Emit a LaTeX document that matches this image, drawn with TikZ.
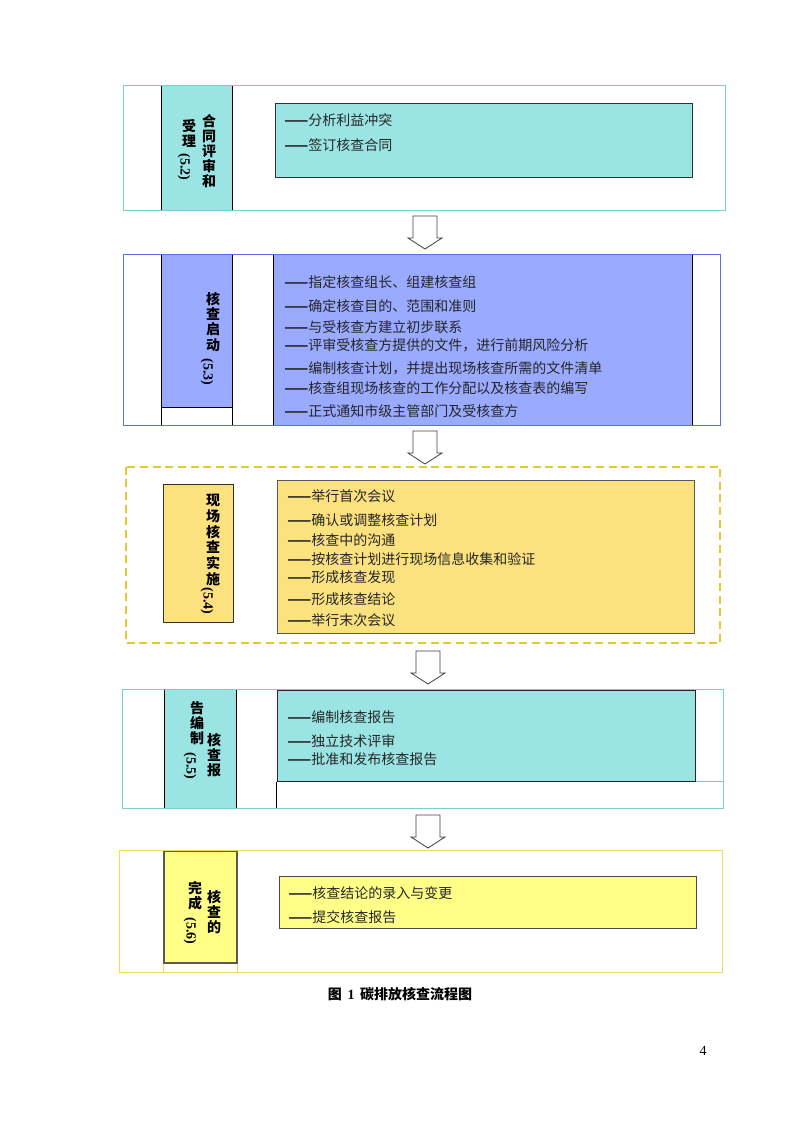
\documentclass[tikz,border=0pt]{standalone}
\usepackage{fontspec}
\setmainfont{Liberation Serif}
\newfontfamily\cjk{Noto Sans CJK SC}
\usepackage{tikz}
\usetikzlibrary{fit}
\definecolor{stageteal}{RGB}{154,228,228}
\definecolor{tealline}{RGB}{120,208,208}
\definecolor{stageblue}{RGB}{153,170,255}
\definecolor{blueline}{RGB}{85,115,225}
\definecolor{stagegold}{RGB}{252,225,127}
\definecolor{goldline}{RGB}{228,200,50}
\definecolor{stagelemon}{RGB}{255,255,136}
\definecolor{lemonline}{RGB}{248,215,95}

\begin{document}
\begin{tikzpicture}[x=0.75pt, y=-0.75pt,
    every node/.style={inner sep=0pt},
    rule/.style={draw=black, line width=0.75pt},
    item/.style={anchor=west, text=black!85, font=\cjk\fontsize{10.5}{12}\selectfont},
    vtitle/.style={align=center, font=\cjk\bfseries\fontsize{10.5}{11.3}\selectfont},
    stageno/.style={rotate=-90, font=\bfseries\fontsize{10.5}{12}\selectfont},
    hollow/.style={draw=black!75, fill=white, line width=0.6pt}
]
\fill[white] (0,0) rectangle (793,1122);
\useasboundingbox (0,0) rectangle (793,1122);

% 5.2
\node[fit={(124,86) (725,210)}] (s1) {};
\node[fill=stageteal, fit={(162,86) (232,210)}] (s1col) {};
\draw[rule] (s1col.north west) -- (s1col.south west) (s1col.north east) -- (s1col.south east);
\node[fill=stageteal, draw=black!80, line width=0.75pt, fit={(275,103) (692,177)}] (s1box) {};
\node[item] (s1i1) at (284,120) {{\bfseries ——}分析利益冲突};
\node[item] (s1i2) at (284,145) {{\bfseries ——}签订核查合同};
\draw[tealline, line width=0.9pt] (s1.north west) rectangle (s1.south east);
\node[vtitle] (s1t) at (209,151) {合\\同\\评\\审\\和};
\node[vtitle] (s1u) at (189,133) {受\\理};
\node[stageno] (s1n) at (184,167) {(5.2)};

% 5.3
\node[fit={(124,255) (720,425)}] (s2) {};
\node[fill=stageblue, fit={(274,255) (692,425)}] (s2box) {};
\draw[rule] (s2box.north west) -- (s2box.south west) (s2box.north east) -- (s2box.south east);
\node[fill=stageblue, fit={(162,255) (232,407)}] (s2col) {};
\draw[rule] (s2col.north west) -- (s2col.south west |- s2.south)
    (s2col.north east) -- (s2col.south east |- s2.south)
    (s2col.south west) -- (s2col.south east);
\foreach \ty/\txt [count=\k] in {282/指定核查组长、组建核查组, 306/确定核查目的、范围和准则,
    327/与受核查方建立初步联系, 345/{评审受核查方提供的文件，进行前期风险分析},
    368/{编制核查计划，并提出现场核查所需的文件清单}, 388/核查组现场核查的工作分配以及核查表的编写,
    411/正式通知市级主管部门及受核查方}
  \node[item] (s2i\k) at (284,\ty) {{\bfseries ——}\txt};
\draw[blueline, line width=0.9pt] (s2.north west) rectangle (s2.south east);
\node[vtitle] (s2t) at (213,322) {核\\查\\启\\动};
\node[stageno] (s2n) at (207,372) {(5.3)};

% 5.4
\node[fit={(126,467) (720,643)}] (s3) {};
\node[fill=stagegold, draw=black!80, line width=0.75pt, fit={(163,484) (233,622)}] (s3col) {};
\node[fill=stagegold, draw=black!65, line width=0.75pt, fit={(277,480) (694,633)}] (s3box) {};
\foreach \ty/\txt [count=\k] in {496/举行首次会议, 520/确认或调整核查计划, 540/核查中的沟通,
    559/按核查计划进行现场信息收集和验证, 577/形成核查发现, 599/形成核查结论, 620/举行末次会议}
  \node[item] (s3i\k) at (287,\ty) {{\bfseries ——}\txt};
\draw[goldline, line width=1.2pt, dash pattern=on 6pt off 3.5pt] (s3.north west) rectangle (s3.south east);
\node[vtitle, font=\cjk\bfseries\fontsize{10.5}{11.8}\selectfont] (s3t) at (213,540) {现\\场\\核\\查\\实\\施};
\node[stageno] (s3n) at (207,601) {(5.4)};

% 5.5
\node[fit={(123,690) (723,808)}] (s4) {};
\node[fill=stageteal, fit={(165,690) (236,808)}] (s4col) {};
\draw[rule] (s4col.north west) -- (s4col.south west) (s4col.north east) -- (s4col.south east);
\node[fill=stageteal, draw=black!85, line width=0.75pt, fit={(277,690) (695,781)}] (s4box) {};
\draw[rule] (s4box.south west) -- (s4box.south west |- s4.south);
\draw[tealline, line width=0.9pt] (s4box.south east) -- (s4box.south east -| s4.east);
\foreach \ty/\txt [count=\k] in {717/编制核查报告, 741/独立技术评审, 759/批准和发布核查报告}
  \node[item] (s4i\k) at (287,\ty) {{\bfseries ——}\txt};
\draw[tealline, line width=0.9pt] (s4.north west) rectangle (s4.south east);
\node[vtitle] (s4t) at (214,755) {核\\查\\报};
\node[vtitle] (s4u) at (197,723) {告\\编\\制};
\node[stageno] (s4n) at (190,766) {(5.5)};

% 5.6
\node[fit={(120,851) (722,972)}] (s5) {};
\node[fill=stagelemon, draw=black!65, line width=0.9pt, fit={(164,851) (237,963)}] (s5col) {};
\draw[lemonline, line width=0.9pt] (s5col.south west) -- (s5col.south west |- s5.south)
    (s5col.south east) -- (s5col.south east |- s5.south);
\node[fill=stagelemon, draw=black!70, line width=0.75pt, fit={(279,876) (696,928)}] (s5box) {};
\node[item] (s5i1) at (288,893) {{\bfseries ——}核查结论的录入与变更};
\node[item] (s5i2) at (288,917) {{\bfseries ——}提交核查报告};
\draw[lemonline, line width=0.9pt] (s5.north west) rectangle (s5.south east);
\node[vtitle] (s5t) at (214,912) {核\\查\\的};
\node[vtitle] (s5u) at (195,896) {完\\成};
\node[stageno] (s5n) at (190,931) {(5.6)};

% arrows between the stages
\foreach \ax/\ay [count=\k] in {425/216, 425/431, 428/651, 428/815} {
  \coordinate (ar\k) at (\ax,\ay);
  \draw[hollow] (ar\k) ++(-12,0) -- ++(24,0) -- ++(0,22) -- ++(5,0) -- ++(-17,11)
      -- ++(-17,-11) -- ++(5,0) -- cycle;
}

\node[font=\cjk\bfseries\fontsize{10.5}{12}\selectfont] (cap) at (400,994)
  {图\hspace{0.4em}{\rmfamily\bfseries 1}\hspace{0.4em}碳排放核查流程图};
\node[font=\fontsize{10.5}{12}\selectfont] (pg) at (703,1051) {4};
\end{tikzpicture}
\end{document}
